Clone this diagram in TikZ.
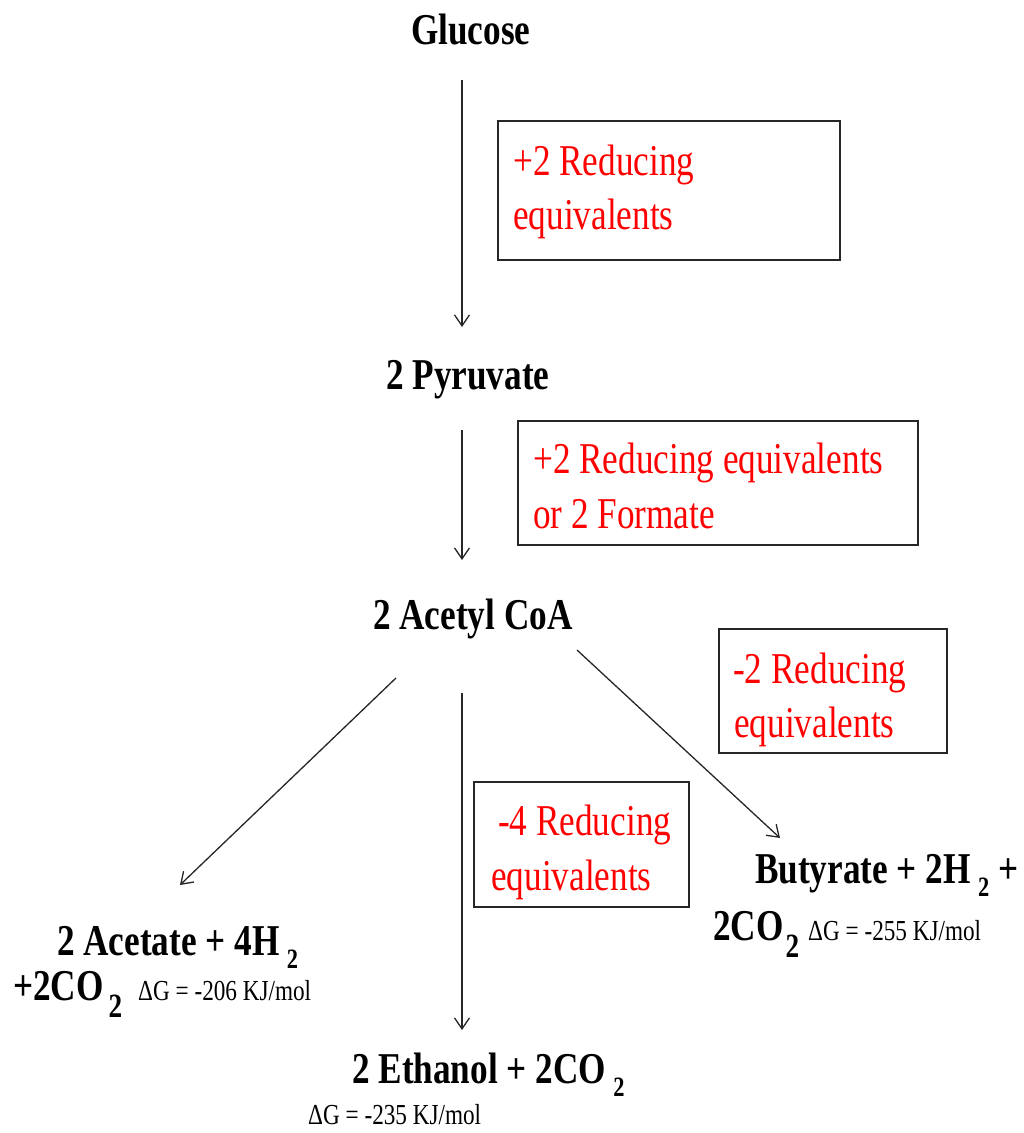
\documentclass[tikz,border=0pt]{standalone}
\usepackage{fontspec}
\setmainfont{Liberation Serif}[FakeStretch=0.8]
\usetikzlibrary{arrows.meta}
\newcommand\subtwo{\,\raisebox{-13pt}{\fontsize{28}{30}\selectfont 2}}
\newcommand\subtwobig[1]{\hspace{#1}\raisebox{-17pt}{\fontsize{34}{40}\selectfont 2}}
\begin{document}
\begin{tikzpicture}[x=1pt,y=-1pt,
  blk/.style={font=\bfseries\fontsize{44}{53}\selectfont, inner sep=0pt, anchor=base west},
  redtxt/.style={font=\fontsize{44}{53}\selectfont, text=red, inner sep=0pt, anchor=base west},
  dg/.style={font=\fontsize{29}{35}\selectfont, inner sep=0pt, anchor=base west},
  boxe/.style={draw=black!85, line width=1.5pt, inner sep=0pt},
  arr/.style={-{Straight Barb[length=11pt,width=15pt]}, line width=1.3pt, draw=black!85}]
\useasboundingbox (0,0) rectangle (1024,1133);
% texts
\node[blk] (glucose) at (411,44) {Glucose};
\node[blk] (pyruvate) at (386,389) {2 Pyruvate};
\node[blk] (acetyl) at (373,629) {2 Acetyl CoA};
\node[blk] (butyrate) at (755,883) {Butyrate + 2H\subtwo\ +};
\node[blk] (butyrate2) at (713,940) {2CO\subtwobig{2pt}};
\node[dg] (dgbut) at (808,940) {ΔG = -255 KJ/mol};
\node[blk] (acetate) at (57,955) {2 Acetate + 4H\subtwo};
\node[blk] (acetate2) at (13,1000) {+2CO\subtwobig{5pt}};
\node[dg] (dgace) at (138,1000) {ΔG = -206 KJ/mol};
\node[blk] (ethanol) at (352,1083) {2 Ethanol + 2CO\subtwo};
\node[dg] (dgeth) at (308,1124) {ΔG = -235 KJ/mol};
% boxes
\node[boxe, minimum width=342pt, minimum height=139pt] (box1) at (669,190.5) {};
\node[redtxt] (r1a) at (513,175) {+2 Reducing};
\node[redtxt] (r1b) at (513,229) {equivalents};
\node[boxe, minimum width=400pt, minimum height=124pt] (box2) at (718,483) {};
\node[redtxt] (r2a) at (533,473) {+2 Reducing equivalents};
\node[redtxt] (r2b) at (533,528) {or 2 Formate};
\node[boxe, minimum width=228pt, minimum height=124pt] (box3) at (833,691) {};
\node[redtxt] (r3a) at (733,683) {-2 Reducing};
\node[redtxt] (r3b) at (734,737) {equivalents};
\node[boxe, minimum width=215pt, minimum height=125pt] (box4) at (581.5,844.5) {};
\node[redtxt] (r4a) at (498,835) {-4 Reducing};
\node[redtxt] (r4b) at (491,890) {equivalents};
% arrow ends
\coordinate (a1s) at (462,80);
\coordinate (a1e) at (462,327);
\coordinate (a2s) at (462,430);
\coordinate (a2e) at (462,560);
\coordinate (a3s) at (396,678);
\coordinate (a3e) at (180,885);
\coordinate (a4s) at (462,693);
\coordinate (a4e) at (462,1030);
\coordinate (a5s) at (577,650);
\coordinate (a5e) at (780,838);
\draw[arr] (a1s) -- (a1e);
\draw[arr] (a2s) -- (a2e);
\draw[arr] (a3s) -- (a3e);
\draw[arr] (a4s) -- (a4e);
\draw[arr] (a5s) -- (a5e);
\end{tikzpicture}
\end{document}
